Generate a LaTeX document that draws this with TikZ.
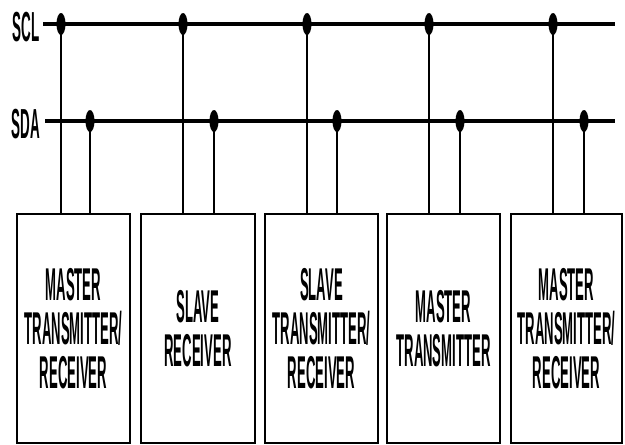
\documentclass[tikz,border=0pt]{standalone}
\usepackage{fontspec}
\newfontfamily\boxfont[FakeStretch=0.285]{Liberation Sans}
\newfontfamily\busfont[FakeStretch=0.32]{Liberation Sans}
\usetikzlibrary{shapes.geometric}
\begin{document}
\begin{tikzpicture}[x=1pt,y=-1pt,
  bus/.style={line width=3.6pt},
  tap/.style={line width=1.4pt},
  dot/.style={ellipse,fill=black,inner sep=0pt,minimum width=9pt,minimum height=22pt},
  device/.style={draw,line width=1.8pt,minimum width=113pt,minimum height=229pt,
     inner sep=0pt,align=center,font=\boxfont\bfseries\fontsize{46}{44}\selectfont},
  buslabel/.style={font=\busfont\bfseries\fontsize{42}{42}\selectfont,inner sep=0pt}]
\useasboundingbox (0,0) rectangle (625,445);
% labels
\node[buslabel] (scl) at (26,27) {SCL};
\node[buslabel] (sda) at (26,124) {SDA};
\coordinate (sclA) at (43,24);
\coordinate (sclB) at (615,24);
\coordinate (sdaA) at (45,121);
\coordinate (sdaB) at (615,121);
\draw[bus] (sclA) -- (sclB);
\draw[bus] (sdaA) -- (sdaB);
% devices
\node[device] (b1) at (73.5,328.5) {MASTER\\TRANSMITTER/\\RECEIVER};
\node[device,minimum width=114pt] (b2) at (198,328.5) {SLAVE\\RECEIVER};
\node[device] (b3) at (321.5,328.5) {SLAVE\\TRANSMITTER/\\RECEIVER};
\node[device] (b4) at (443.5,328.5) {MASTER\\TRANSMITTER};
\node[device,minimum width=111pt] (b5) at (566.5,328.5) {MASTER\\TRANSMITTER/\\RECEIVER};
% taps
\foreach \i/\c/\d in {1/61/90, 2/183/214, 3/307/337, 4/429/460, 5/553/584}{
  \node[dot] (c\i) at (\c,24) {};
  \node[dot] (d\i) at (\d,121) {};
  \draw[tap] (c\i.center) -- (c\i.center |- b\i.north);
  \draw[tap] (d\i.center) -- (d\i.center |- b\i.north);
}
\end{tikzpicture}
\end{document}
